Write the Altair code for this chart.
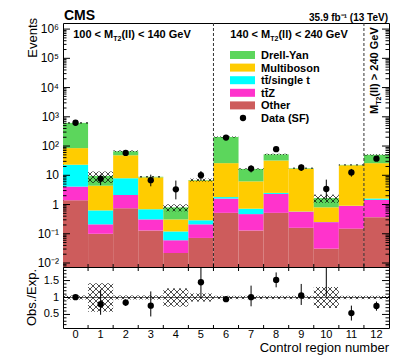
import altair as alt
import numpy as np
import pandas as pd

# ---------------- data ----------------
regions = list(range(13))
other      = [1.4, 0.10, 0.74, 0.13, 0.022, 0.072, 0.52, 0.13, 0.52, 0.16, 0.031, 0.15, 0.37]
ttz        = [2.7, 0.11, 1.36, 0.18, 0.038, 0.138, 1.08, 0.34, 1.78, 0.41, 0.219, 0.74, 1.08]
ttbar      = [18.9, 0.42, 5.8, 0.38, 0.06, 0.08, 0.2, 0.25, 0.2, 0.01, 0.003, 0.01, 0.15]
multiboson = [62, 3.77, 40.1, 7.81, 0.19, 6.31, 24.2, 5.48, 29.5, 16.2, 0.55, 21.1, 24.4]
drellyan   = [535, 5.1, 19, 0.4, 0.49, 0.3, 178, 10.3, 20, 0.7, 0.86, 0.7, 24]
data_obs   = [625, 7.6, 58, 6.8, 3.3, 10, 195, 17, 78, 18.5, 3.4, 12.5, 37]
data_lo    = [600, 4.6, 50, 4.2, 1.5, 6.5, 181, 12.5, 69, 14, 1.5, 9, 31]
data_hi    = [650, 10.5, 67, 10.5, 6.6, 14, 209, 22, 87, 23.5, 7.1, 16.5, 43]
bkg_unc    = [0.06, 0.42, 0.06, 0.06, 0.27, 0.12, 0.05, 0.05, 0.05, 0.05, 0.31, 0.05, 0.05]
ratio      = [1.01, 0.80, 0.85, 0.76, 4.1, 1.45, 0.95, 1.01, 1.52, 1.06, 2.05, 0.54, 0.75]
ratio_lo   = [0.96, 0.49, 0.75, 0.44, 1.95, 1.0, 0.91, 0.74, 1.30, 0.78, 1.03, 0.32, 0.61]
ratio_hi   = [1.06, 1.23, 0.95, 1.18, 8.0, 2.1, 1.00, 1.35, 1.74, 1.40, 4.3, 0.76, 0.88]
process_names = ["Other", "ttZ", "tt/single t", "Multiboson", "Drell-Yan"]
process_colors = ["#cd5c5c", "#ff33cc", "#00ffff", "#ffcc00", "#5cd65c"]
legend_labels = ["Drell-Yan", "Multiboson", "tt\u0304/single t", "tt\u0304Z", "Other", "Data (SF)"]
legend_colors = ["#5cd65c", "#ffcc00", "#00ffff", "#ff33cc", "#cd5c5c", None]
region_texts = [("100 < M", "T2", "(ll) < 140 GeV"),
                ("140 < M", "T2", "(ll) < 240 GeV"),
                ("M", "T2", "(ll) > 240 GeV")]
y_tick_values = [0.01, 0.1, 1, 10, 100, 1e3, 1e4, 1e5, 1e6]
y_tick_labels = ["10\u207b\u00b2", "10\u207b\u00b9", "1", "10", "10\u00b2", "10\u00b3", "10\u2074", "10\u2075", "10\u2076"]
r_tick_values = [0.5, 1.0, 1.5]
r_tick_labels = ["0.5", "1", "1.5"]
x_tick_labels = [str(i) for i in regions]
x_title = "Control region number"
y_title = "Events"
r_title = "Obs./Exp."
cms_text = "CMS"
lumi_text = "35.9 fb\u207b\u00b9 (13 TeV)"

# ---------------- layout ----------------
FONT = "Liberation Sans"
TOP_ABS = 22
LEFT_ABS = 61
W = 326
H1 = 266 - TOP_ABS
H2 = 61
DEC = 29.24                    # pixels per decade
YMIN = 0.0073
YMAX = 10 ** (np.log10(YMIN) + H1 / DEC)
RMIN, RMAX = 0.1, 1.9
SX = W / 13.0
one = pd.DataFrame({"a": [0]})

xs = alt.Scale(domain=[-0.5, 12.5], nice=False, zero=False)
ys = alt.Scale(type="log", domain=[YMIN, YMAX], nice=False, clamp=True)
rs = alt.Scale(domain=[RMIN, RMAX], nice=False, zero=False)

# ---------------- tables ----------------
comps = [other, ttz, ttbar, multiboson, drellyan]
rows = []
for i in regions:
    cum = 0.0
    for p, vals in enumerate(comps):
        lo = cum if cum > 0 else YMIN * 0.1
        cum += vals[i]
        rows.append(dict(x0=i - 0.5, x1=i + 0.5, y0=lo, y1=cum, proc=process_names[p]))
stack_df = pd.DataFrame(rows)
totals = [sum(c[i] for c in comps) for i in regions]


def hatch(x0, x1, y0, y1, d=6.0):
    segs = []
    for k in range(int(np.floor((y0 - x1) / d)) - 1, int(np.ceil((y1 - x0) / d)) + 2):
        c = k * d
        a, b = max(x0, y0 - c), min(x1, y1 - c)
        if b - a > 1e-6:
            segs.append((a, a + c, b, b + c))
    for k in range(int(np.floor((x0 + y0) / d)) - 1, int(np.ceil((x1 + y1) / d)) + 2):
        c = k * d
        a, b = max(x0, c - y1), min(x1, c - y0)
        if b - a > 1e-6:
            segs.append((a, c - a, b, c - b))
    return segs


lymin = np.log10(YMIN)
RS = H2 / (RMAX - RMIN)
hrows, rrows = [], []
for i in regions:
    px0, px1 = i * SX, (i + 1) * SX
    lo, hi = totals[i] * (1 - bkg_unc[i]), totals[i] * (1 + bkg_unc[i])
    for (ax, ay, bx, by) in hatch(px0, px1, (np.log10(lo) - lymin) * DEC, (np.log10(hi) - lymin) * DEC):
        hrows.append(dict(x=ax / SX - 0.5, y=10 ** (ay / DEC + lymin), x2=bx / SX - 0.5, y2=10 ** (by / DEC + lymin)))
    for (ax, ay, bx, by) in hatch(px0, px1, (1 - bkg_unc[i] - RMIN) * RS, (1 + bkg_unc[i] - RMIN) * RS):
        rrows.append(dict(x=ax / SX - 0.5, y=ay / RS + RMIN, x2=bx / SX - 0.5, y2=by / RS + RMIN))
hatch_top = pd.DataFrame(hrows)
hatch_rat = pd.DataFrame(rrows)

obs_df = pd.DataFrame(dict(x=regions, v=data_obs, lo=data_lo, hi=data_hi))
rat_df = pd.DataFrame(dict(x=regions, v=ratio, lo=ratio_lo, hi=ratio_hi))

majors = [10.0 ** k for k in range(-2, 7)]
minors = [m * 10.0 ** k for k in range(-3, 7) for m in range(2, 10) if YMIN < m * 10.0 ** k < YMAX]
edges = pd.DataFrame({"e": [i + 0.5 for i in range(12)]})
rmaj = pd.DataFrame({"v": r_tick_values})
rmin_t = pd.DataFrame({"v": [round(0.1 * k, 1) for k in range(2, 19) if k % 5 != 0]})

# ---------------- helpers ----------------
AB = {**{str(d): 556 for d in range(10)}, " ": 278, "<": 584, ">": 584, "M": 833, "T": 611,
      "(": 333, ")": 333, "l": 278, "G": 778, "e": 556, "V": 667}


def tw(s, fs):
    return sum(AB.get(c, 556) for c in s) * fs / 1000.0


def txt(s, x, y, fs, weight="bold", align="left", angle=0):
    kw = dict(text=s, font=FONT, fontSize=fs, fontWeight=weight, align=align,
              baseline="alphabetic", color="black")
    if angle:
        kw["angle"] = angle
    return alt.Chart(one).mark_text(**kw).encode(x=alt.value(x), y=alt.value(y))


def vticks(df, field, scale, x0, x1):
    return alt.Chart(df).mark_rule(color="black", strokeWidth=1).encode(
        y=alt.Y(f"{field}:Q", scale=scale, axis=None), x=alt.value(x0), x2=alt.value(x1))


def hticks(y0, y1):
    return alt.Chart(edges).mark_rule(color="black", strokeWidth=1).encode(
        x=alt.X("e:Q", scale=xs, axis=None), y=alt.value(y0), y2=alt.value(y1))


def ylabels(vals, labs, scale, fs):
    return alt.Chart(pd.DataFrame({"v": vals, "t": labs})).mark_text(
        font=FONT, fontSize=fs, align="right", baseline="middle", color="black").encode(
        y=alt.Y("v:Q", scale=scale, axis=None), x=alt.value(-4), text="t:N")


# ---------------- top panel ----------------
bars = alt.Chart(stack_df).mark_bar(strokeWidth=0).encode(
    x=alt.X("x0:Q", scale=xs, axis=None), x2="x1:Q",
    y=alt.Y("y1:Q", scale=ys, axis=None), y2="y0:Q",
    color=alt.Color("proc:N", scale=alt.Scale(domain=process_names, range=process_colors), legend=None),
)
hatch_t = alt.Chart(hatch_top).mark_rule(color="black", strokeWidth=0.7).encode(
    x=alt.X("x:Q", scale=xs, axis=None), x2="x2:Q",
    y=alt.Y("y:Q", scale=ys, axis=None), y2="y2:Q")
dashed = alt.Chart(pd.DataFrame({"b": [5.5, 11.5]})).mark_rule(
    color="#333333", strokeWidth=1, strokeDash=[3, 2]).encode(
    x=alt.X("b:Q", scale=xs, axis=None), y=alt.value(0), y2=alt.value(H1))
err_t = alt.Chart(obs_df).mark_rule(color="black", strokeWidth=1).encode(
    x=alt.X("x:Q", scale=xs, axis=None), y=alt.Y("lo:Q", scale=ys, axis=None), y2="hi:Q")
pts_t = alt.Chart(obs_df).mark_circle(color="black", size=40, opacity=1).encode(
    x=alt.X("x:Q", scale=xs, axis=None), y=alt.Y("v:Q", scale=ys, axis=None))

top_layers = [bars, hatch_t, dashed, err_t, pts_t,
              vticks(pd.DataFrame({"v": majors}), "v", ys, 0, 7),
              vticks(pd.DataFrame({"v": minors}), "v", ys, 0, 3.5),
              vticks(pd.DataFrame({"v": majors}), "v", ys, W - 7, W),
              vticks(pd.DataFrame({"v": minors}), "v", ys, W - 3.5, W),
              hticks(H1, H1 - 3),
              ylabels(y_tick_values, y_tick_labels, ys, 12),
              txt(y_title, 35 - LEFT_ABS, 17 - TOP_ABS, 13, weight="normal", align="right", angle=270)]

# region labels
base_y = 37 - TOP_ABS
for (a, sub, b), cx in zip(region_texts[:2], [130 - LEFT_ABS, 287 - LEFT_ABS]):
    total_w = tw(a, 11) + tw(sub, 7) + tw(b, 11)
    x0 = cx - total_w / 2
    top_layers.append(txt(a, x0, base_y, 11))
    top_layers.append(txt(sub, x0 + tw(a, 11), base_y + 3, 7))
    top_layers.append(txt(b, x0 + tw(a, 11) + tw(sub, 7), base_y, 11))
a, sub, b = region_texts[2]
rx = 376 - LEFT_ABS
ry = 113 - TOP_ABS
top_layers.append(txt(a, rx, ry, 11, angle=270))
top_layers.append(txt(sub, rx + 3, ry - tw(a, 11), 7, angle=270))
top_layers.append(txt(b, rx, ry - tw(a, 11) - tw(sub, 7), 11, angle=270))

# legend
for k, (lab, col) in enumerate(zip(legend_labels, legend_colors)):
    cy = 54 + 12.6 * k - TOP_ABS
    if col is not None:
        top_layers.append(alt.Chart(one).mark_rect(color=col).encode(
            x=alt.value(228 - LEFT_ABS), x2=alt.value(253 - LEFT_ABS),
            y=alt.value(cy - 4), y2=alt.value(cy + 4)))
    else:
        top_layers.append(alt.Chart(one).mark_circle(color="black", size=40, opacity=1).encode(
            x=alt.value(241 - LEFT_ABS), y=alt.value(cy)))
    top_layers.append(txt(lab, 259 - LEFT_ABS, cy + 4, 11))

top_layers.append(txt(cms_text, 1, -3, 14))
top_layers.append(txt(lumi_text, W - 1, -2.5, 10, align="right"))

top = alt.layer(*top_layers).properties(width=W, height=H1)

# ---------------- ratio panel ----------------
hatch_r = alt.Chart(hatch_rat).mark_rule(color="black", strokeWidth=0.7).encode(
    x=alt.X("x:Q", scale=xs, axis=None), x2="x2:Q",
    y=alt.Y("y:Q", scale=rs, axis=None), y2="y2:Q")
one_line = alt.Chart(pd.DataFrame({"v": [1.0]})).mark_rule(color="black", strokeWidth=0.6).encode(
    y=alt.Y("v:Q", scale=rs, axis=None), x=alt.value(0), x2=alt.value(W))
err_r = alt.Chart(rat_df).mark_rule(color="black", strokeWidth=1, clip=True).encode(
    x=alt.X("x:Q", scale=xs, axis=None), y=alt.Y("lo:Q", scale=rs, axis=None), y2="hi:Q")
pts_r = alt.Chart(rat_df).mark_circle(color="black", size=40, opacity=1, clip=True).encode(
    x=alt.X("x:Q", scale=xs, axis=None), y=alt.Y("v:Q", scale=rs, axis=None))
xlabels = alt.Chart(pd.DataFrame({"x": regions, "t": x_tick_labels})).mark_text(
    font=FONT, fontSize=11, align="center", baseline="top", color="black").encode(
    x=alt.X("x:Q", scale=xs, axis=None), y=alt.value(H2 + 0.5), text="t:N")

bottom = alt.layer(
    hatch_r, one_line, err_r, pts_r,
    vticks(rmaj, "v", rs, 0, 7), vticks(rmin_t, "v", rs, 0, 3.5),
    vticks(rmaj, "v", rs, W - 7, W), vticks(rmin_t, "v", rs, W - 3.5, W),
    hticks(0, 4), hticks(H2, H2 - 3),
    ylabels(r_tick_values, r_tick_labels, rs, 11),
    xlabels,
    txt(r_title, 34 - LEFT_ABS, H2 / 2, 13, weight="normal", align="center", angle=270),
    txt(x_title, W, 351 - 266, 13, weight="normal", align="right"),
).properties(width=W, height=H2)

chart = alt.vconcat(top, bottom, spacing=0, bounds="flush").properties(
    padding={"left": 17, "top": 0, "right": 5, "bottom": 0}
).configure_view(stroke="black", strokeWidth=1)

chart.save("out.html", embed_options={"renderer": "svg", "actions": False})
